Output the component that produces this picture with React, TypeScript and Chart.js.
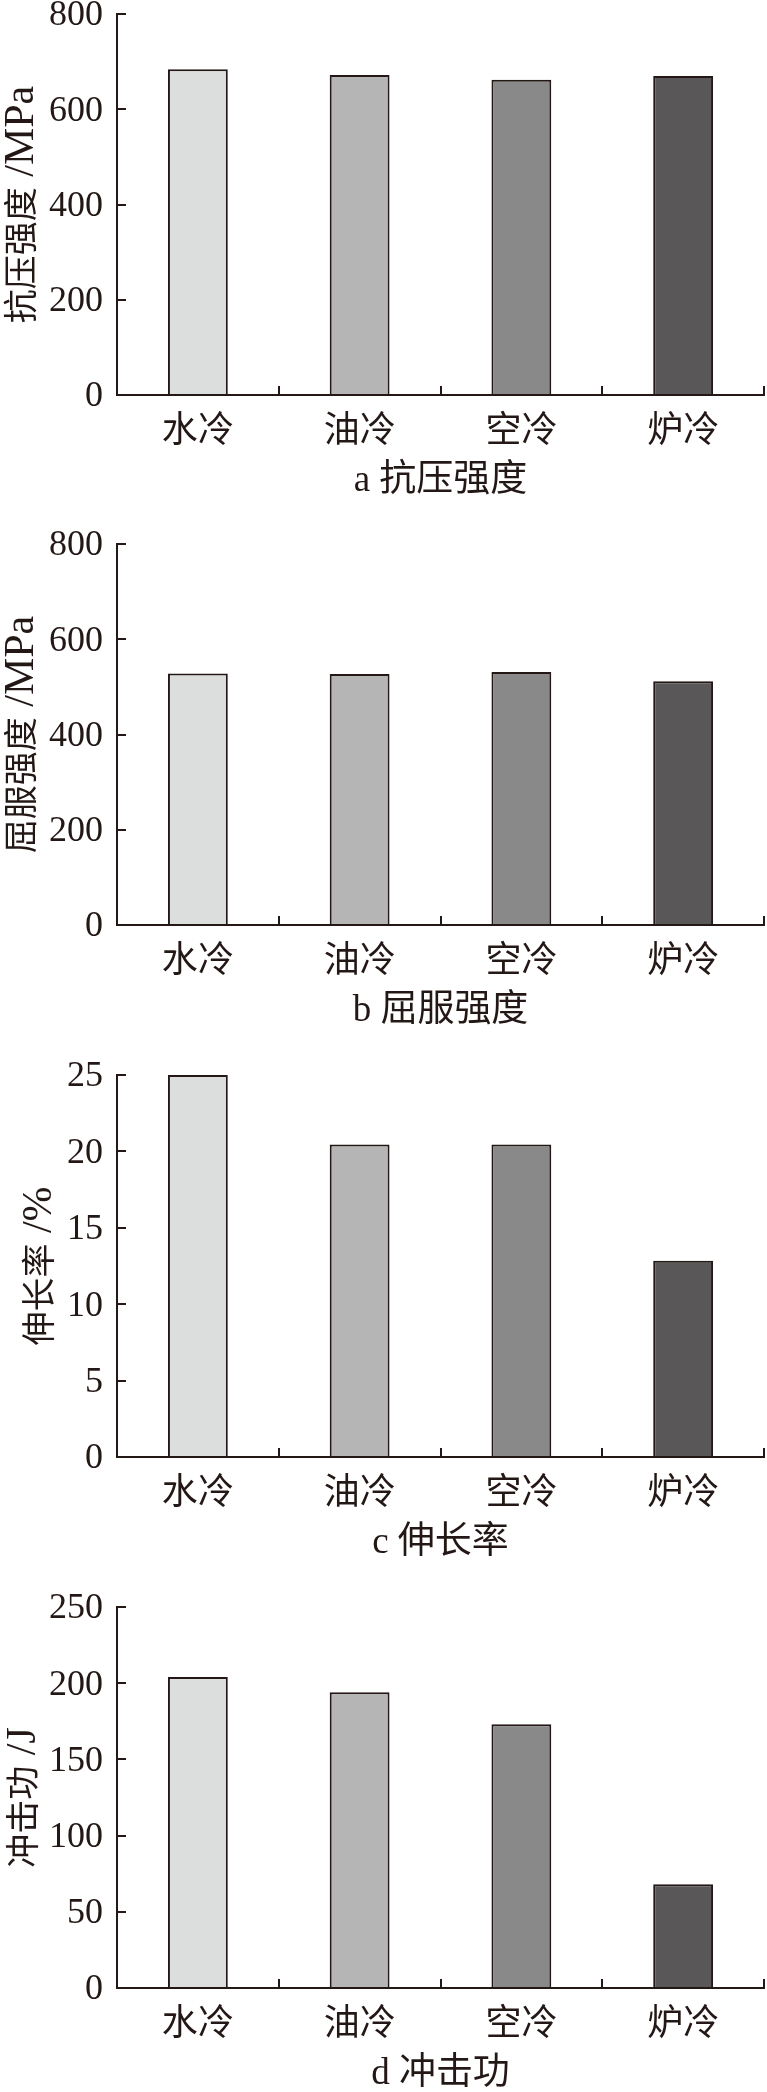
import React, { useEffect, useRef } from "react";
import { Chart, registerables } from "chart.js";

Chart.register(...registerables);

// ---- data ----
const categories = ["水冷", "油冷", "空冷", "炉冷"];
const compressiveStrength = [684, 672, 662, 670];
const yieldStrength = [528, 527, 531, 512];
const elongation = [25.0, 20.45, 20.45, 12.85];
const impactEnergy = [204, 194, 173, 68];

const panelLetters = ["a", "b", "c", "d"];
const panelTitles = ["抗压强度", "屈服强度", "伸长率", "冲击功"];
const yTitleNames = ["抗压强度", "屈服强度", "伸长率", "冲击功"];
const yTitleUnits = ["/MPa", "/MPa", "/%", "/J"];
const yMaxValues = [800, 800, 25, 250];
const yStepValues = [200, 200, 5, 50];

const seriesList = [compressiveStrength, yieldStrength, elongation, impactEnergy];

// ---- styles / layout ----
const INK = "#231815";
const barColors = ["#dcdddd", "#b5b5b6", "#898989", "#595757"];
const SERIF = "'Liberation Serif', 'Times New Roman', serif";
const MIXED = "'Liberation Serif', 'Noto Sans CJK SC', serif";
const CJK = "'Noto Sans CJK SC', sans-serif";

const canvasTop = [0, 520, 1040, 1560];
const canvasH = [520, 520, 520, 532];
const areaTop = [14, 24, 35, 47];
const areaBottom = [395, 405, 417, 428];
const yTitleCenterX = [20, 20, 38, 22];
const AREA_LEFT = 117;
const AREA_RIGHT = 764;
const WIDTH = 767;

const Y_TITLE_CJK_SIZE = 34;
const Y_TITLE_LATIN_SIZE = 42;

function makeYTitlePlugin(idx: number) {
  return {
    id: "yTitleMixed" + idx,
    afterDraw(chart: any) {
      const ctx = chart.ctx as CanvasRenderingContext2D;
      const area = chart.chartArea;
      const cx = yTitleCenterX[idx];
      const cy = (area.top + area.bottom) / 2;
      const main = yTitleNames[idx];
      const unit = yTitleUnits[idx];
      const cjkFont = `${Y_TITLE_CJK_SIZE}px ${CJK}`;
      const latFont = `${Y_TITLE_LATIN_SIZE}px ${SERIF}`;
      ctx.save();
      ctx.font = cjkFont;
      const wMain = ctx.measureText(main).width;
      ctx.font = latFont;
      const wSpace = ctx.measureText(" ").width;
      const wUnit = ctx.measureText(unit).width;
      const total = wMain + wSpace + wUnit;
      ctx.translate(cx, cy);
      ctx.rotate(-Math.PI / 2);
      ctx.fillStyle = INK;
      ctx.textAlign = "left";
      ctx.textBaseline = "alphabetic";
      const base = 13;
      let x = -total / 2;
      ctx.font = cjkFont;
      ctx.fillText(main, x, base);
      x += wMain + wSpace;
      ctx.font = latFont;
      ctx.fillText(unit, x, base);
      ctx.restore();
    },
  };
}

function Panel({ idx }: { idx: number }) {
  const ref = useRef<HTMLCanvasElement | null>(null);
  const H = canvasH[idx];

  useEffect(() => {
    if (!ref.current) return;
    const T = areaTop[idx];
    const B = areaBottom[idx];
    const tickFont = 36;
    const labelFont = 36;
    const xTitleFont = 37;

    const chart = new Chart(ref.current, {
      type: "bar",
      data: {
        labels: categories,
        datasets: [
          {
            data: seriesList[idx],
            backgroundColor: barColors,
            borderColor: INK,
            borderWidth: 2,
            borderSkipped: "bottom",
            barPercentage: 0.37,
            categoryPercentage: 1,
          },
        ],
      },
      options: {
        animation: false,
        responsive: false,
        devicePixelRatio: 1,
        layout: {
          autoPadding: false,
          padding: { top: T, left: 0, right: WIDTH - AREA_RIGHT, bottom: 0 },
        },
        plugins: {
          legend: { display: false },
          tooltip: { enabled: false },
        },
        scales: {
          x: {
            offset: true,
            grid: {
              display: true,
              offset: true,
              drawOnChartArea: false,
              drawTicks: true,
              tickLength: -9,
              color: INK,
              lineWidth: 2,
            },
            border: { display: true, color: INK, width: 2 },
            ticks: {
              color: INK,
              font: { family: CJK, size: labelFont, lineHeight: 1 },
              padding: 24,
              maxRotation: 0,
              minRotation: 0,
              autoSkip: false,
            },
            title: {
              display: true,
              text: `${panelLetters[idx]} ${panelTitles[idx]}`,
              color: INK,
              font: { family: MIXED, size: xTitleFont, lineHeight: 1 },
              padding: { top: 0, bottom: H - B - 86 - xTitleFont / 2 },
            },
            afterFit: (s: any) => {
              s.height = H - B;
              s.paddingLeft = 0;
              s.paddingRight = 0;
            },
          },
          y: {
            min: 0,
            max: yMaxValues[idx],
            ticks: {
              stepSize: yStepValues[idx],
              color: INK,
              font: { family: SERIF, size: tickFont, lineHeight: 1 },
              padding: 23,
              labelOffset: 2,
            },
            grid: {
              drawOnChartArea: false,
              drawTicks: true,
              tickLength: -9,
              color: INK,
              lineWidth: 2,
            },
            border: { display: true, color: INK, width: 2 },
            title: { display: false },
            afterFit: (s: any) => {
              s.width = AREA_LEFT;
              s.paddingTop = 0;
              s.paddingBottom = 0;
            },
          },
        },
      },
      plugins: [makeYTitlePlugin(idx)],
    } as any);
    return () => chart.destroy();
  }, [idx, H]);

  return (
    <canvas
      ref={ref}
      width={WIDTH}
      height={H}
      style={{
        position: "absolute",
        left: 0,
        top: canvasTop[idx],
        width: WIDTH,
        height: H,
        display: "block",
      }}
    />
  );
}

export default function App() {
  return (
    <div
      style={{
        position: "absolute",
        left: 0,
        top: 0,
        width: WIDTH,
        height: 2092,
        background: "#ffffff",
      }}
    >
      {[0, 1, 2, 3].map((i) => (
        <Panel key={i} idx={i} />
      ))}
    </div>
  );
}
